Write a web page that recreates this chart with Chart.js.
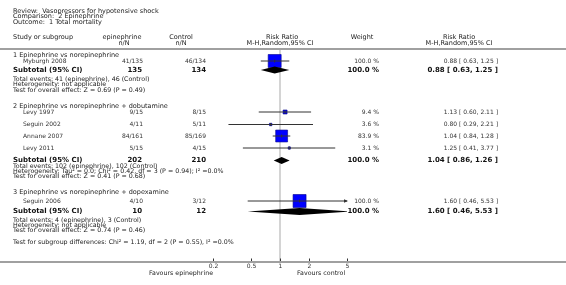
<!DOCTYPE html>
<html>
<head>
<meta charset="utf-8">
<script src="https://cdn.jsdelivr.net/npm/chart.js@4.4.0/dist/chart.umd.min.js"></script>
<style>
  html, body { margin: 0; padding: 0; background: #fff; }
  canvas { display: block; }
</style>
</head>
<body>
<canvas id="forest" width="566" height="285"></canvas>
<script>
// --- data ---
const studies   = ["Myburgh 2008", "Levy 1997", "Seguin 2002", "Annane 2007", "Levy 2011", "Seguin 2006"];
const epiEvents = [41, 9, 4, 84, 5, 4];
const epiTotal  = [135, 15, 11, 161, 15, 10];
const ctlEvents = [46, 8, 5, 85, 4, 3];
const ctlTotal  = [134, 15, 11, 169, 15, 12];
const weights   = [100.0, 9.4, 3.6, 83.9, 3.1, 100.0];
const rr        = [0.88, 1.13, 0.80, 1.04, 1.25, 1.60];
const rrLo      = [0.63, 0.60, 0.29, 0.84, 0.41, 0.46];
const rrHi      = [1.25, 2.11, 2.21, 1.28, 3.77, 5.53];

const groups    = ["1 Epinephrine vs norepinephrine",
                   "2 Epinephrine vs norepinephrine + dobutamine",
                   "3 Epinephrine vs norepinephrine + dopexamine"];
const subEpiN   = [135, 202, 10];
const subCtlN   = [134, 210, 12];
const subRR     = [0.88, 1.04, 1.60];
const subLo     = [0.63, 0.86, 0.46];
const subHi     = [1.25, 1.26, 5.53];
const subNotes  = [
  ["Total events: 41 (epinephrine), 46 (Control)",
   "Heterogeneity: not applicable",
   "Test for overall effect: Z = 0.69 (P = 0.49)"],
  ["Total events: 102 (epinephrine), 102 (Control)",
   "Heterogeneity: Tau\u00b2 = 0.0; Chi\u00b2 = 0.42, df = 3 (P = 0.94); I\u00b2 =0.0%",
   "Test for overall effect: Z = 0.41 (P = 0.68)"],
  ["Total events: 4 (epinephrine), 3 (Control)",
   "Heterogeneity: not applicable",
   "Test for overall effect: Z = 0.74 (P = 0.46)"]
];
const diffNote  = "Test for subgroup differences: Chi\u00b2 = 1.19, df = 2 (P = 0.55), I\u00b2 =0.0%";
const ticksX    = [0.2, 0.5, 1, 2, 5];

// --- layout (pixel rows) ---
const groupY    = [55.5, 106.5, 192.5];
const studyY    = [61, 112, 124.5, 136, 148, 201];
const subtotalY = [70, 160.5, 211.5];
const notesY    = [79.5, 166, 220];
const noteStep  = 5.3;
const diffY     = 242.5;
const axisY     = 262;

const FONT = '"DejaVu Sans", Verdana, sans-serif';
const INK = "#222";

const fmt = v => v.toFixed(2);
const rrText = (a, b, c) => `${fmt(a)} [ ${fmt(b)}, ${fmt(c)} ]`;

function txt(ctx, s, x, y, align, size, bold, color) {
  ctx.font = (bold ? "bold " : "") + size + "px " + FONT;
  ctx.textAlign = align;
  ctx.textBaseline = "middle";
  ctx.fillStyle = color || INK;
  ctx.fillText(s, x, y);
}

const forestPlugin = {
  id: "forest",
  beforeDatasetsDraw(chart) {
    const ctx = chart.ctx, x = chart.scales.x, a = chart.chartArea;
    const x1 = x.getPixelForValue(1);
    ctx.save();
    ctx.strokeStyle = "#d4d4d4";
    ctx.lineWidth = 2;
    ctx.beginPath();
    ctx.moveTo(x1, a.top);
    ctx.lineTo(x1, a.bottom);
    ctx.stroke();
    ctx.restore();
  },
  afterDatasetsDraw(chart) {
    const ctx = chart.ctx, x = chart.scales.x, y = chart.scales.y, a = chart.chartArea;
    ctx.save();
    // arrows for CIs running past the axis
    ctx.fillStyle = "#333";
    rrHi.forEach((h, i) => {
      if (h > x.max) {
        const px = a.right, py = y.getPixelForValue(studyY[i]);
        ctx.beginPath();
        ctx.moveTo(px + 1, py);
        ctx.lineTo(px - 3, py - 1.8);
        ctx.lineTo(px - 3, py + 1.8);
        ctx.closePath();
        ctx.fill();
      }
    });
    // subtotal diamonds
    ctx.beginPath();
    ctx.rect(a.left, a.top, a.right - a.left, a.bottom - a.top);
    ctx.clip();
    ctx.fillStyle = "#000";
    subRR.forEach((v, i) => {
      const py = y.getPixelForValue(subtotalY[i]);
      const pl = x.getPixelForValue(subLo[i]);
      const pm = x.getPixelForValue(v);
      const ph = x.getPixelForValue(subHi[i]);
      ctx.beginPath();
      ctx.moveTo(pl, py);
      ctx.lineTo(pm, py - 3.5);
      ctx.lineTo(ph, py);
      ctx.lineTo(pm, py + 3.5);
      ctx.closePath();
      ctx.fill();
    });
    ctx.restore();
  },
  afterDraw(chart) {
    const ctx = chart.ctx, x = chart.scales.x;
    const W = chart.width;
    ctx.save();

    // header block
    txt(ctx, "Review:  Vasopressors for hypotensive shock", 13, 11, "left", 6.5);
    txt(ctx, "Comparison:  2 Epinephrine", 13, 16.7, "left", 6.5);
    txt(ctx, "Outcome:  1 Total mortality", 13, 22.3, "left", 6.5);

    txt(ctx, "Study or subgroup", 13, 37.7, "left", 6.5);
    txt(ctx, "epinephrine", 122, 37.7, "center", 6.5);
    txt(ctx, "n/N", 124, 43.3, "center", 6.5);
    txt(ctx, "Control", 181, 37.7, "center", 6.5);
    txt(ctx, "n/N", 181, 43.3, "center", 6.5);
    txt(ctx, "Risk Ratio", 282, 37.7, "center", 6.5);
    txt(ctx, "M-H,Random,95% CI", 280, 43.3, "center", 6.5);
    txt(ctx, "Weight", 362, 37.7, "center", 6.5);
    txt(ctx, "Risk Ratio", 459, 37.7, "center", 6.5);
    txt(ctx, "M-H,Random,95% CI", 459, 43.3, "center", 6.5);

    // rules
    ctx.strokeStyle = "#a0a0a0";
    ctx.lineWidth = 2;
    ctx.beginPath();
    ctx.moveTo(0, 49); ctx.lineTo(W, 49);
    ctx.moveTo(0, axisY); ctx.lineTo(W, axisY);
    ctx.stroke();

    // groups
    groups.forEach((g, i) => txt(ctx, g, 13, groupY[i], "left", 6.5));

    // studies
    studies.forEach((s, i) => {
      const yy = studyY[i];
      txt(ctx, s, 23, yy, "left", 6, false, "#333");
      txt(ctx, epiEvents[i] + "/" + epiTotal[i], 143, yy, "right", 6, false, "#333");
      txt(ctx, ctlEvents[i] + "/" + ctlTotal[i], 206, yy, "right", 6, false, "#333");
      txt(ctx, weights[i].toFixed(1) + " %", 379, yy, "right", 6, false, "#333");
      txt(ctx, rrText(rr[i], rrLo[i], rrHi[i]), 498, yy, "right", 6, false, "#333");
    });

    // subtotals and notes
    subRR.forEach((v, i) => {
      const yy = subtotalY[i];
      txt(ctx, "Subtotal (95% CI)", 13, yy, "left", 7, true, "#111");
      txt(ctx, String(subEpiN[i]), 142, yy, "right", 7, true, "#111");
      txt(ctx, String(subCtlN[i]), 206, yy, "right", 7, true, "#111");
      txt(ctx, "100.0 %", 379, yy, "right", 7, true, "#111");
      txt(ctx, rrText(v, subLo[i], subHi[i]), 498, yy, "right", 7, true, "#111");
      subNotes[i].forEach((n, k) => txt(ctx, n, 13, notesY[i] + k * noteStep, "left", 6.3));
    });
    txt(ctx, diffNote, 13, diffY, "left", 6.3);

    // axis ticks and labels
    ctx.strokeStyle = "#333";
    ctx.lineWidth = 1;
    ticksX.forEach(t => {
      const px = Math.round(x.getPixelForValue(t)) + 0.5;
      ctx.beginPath();
      ctx.moveTo(px, axisY - 3.5);
      ctx.lineTo(px, axisY - 1);
      ctx.stroke();
      txt(ctx, String(t), px, axisY + 4.5, "center", 6, false, "#333");
    });
    txt(ctx, "Favours epinephrine", 213, 273, "right", 6.3);
    txt(ctx, "Favours control", 297, 273, "left", 6.3);

    ctx.restore();
  }
};

const ciSets = studies.map((s, i) => ({
  type: "line",
  data: [{ x: rrLo[i], y: studyY[i] }, { x: rrHi[i], y: studyY[i] }],
  borderColor: "#333",
  borderWidth: 1,
  pointRadius: 0,
  order: 1
}));

new Chart(document.getElementById("forest"), {
  type: "scatter",
  data: {
    datasets: [
      {
        // point estimate tick
        data: rr.map((v, i) => ({ x: v, y: studyY[i] })),
        pointStyle: "line",
        rotation: 90,
        pointRadius: 1.5,
        borderColor: "#333",
        borderWidth: 1,
        order: 0
      },
      ...ciSets,
      {
        // weighted squares
        data: rr.map((v, i) => ({ x: v, y: studyY[i] })),
        pointStyle: "rect",
        pointRadius: weights.map(w => Math.max(1, 13 * Math.sqrt(w / 100)) / Math.SQRT2),
        backgroundColor: "#0000ff",
        borderColor: "#00008c",
        borderWidth: 0.6,
        order: 2
      }
    ]
  },
  options: {
    responsive: false,
    devicePixelRatio: 1,
    animation: false,
    events: [],
    layout: { padding: { left: 213, right: 219, top: 49, bottom: 23 } },
    plugins: { legend: { display: false }, tooltip: { enabled: false } },
    scales: {
      x: { type: "logarithmic", min: 0.2, max: 5, display: false },
      y: { type: "linear", min: 49, max: 262, reverse: true, display: false }
    }
  },
  plugins: [forestPlugin]
});
</script>
</body>
</html>
